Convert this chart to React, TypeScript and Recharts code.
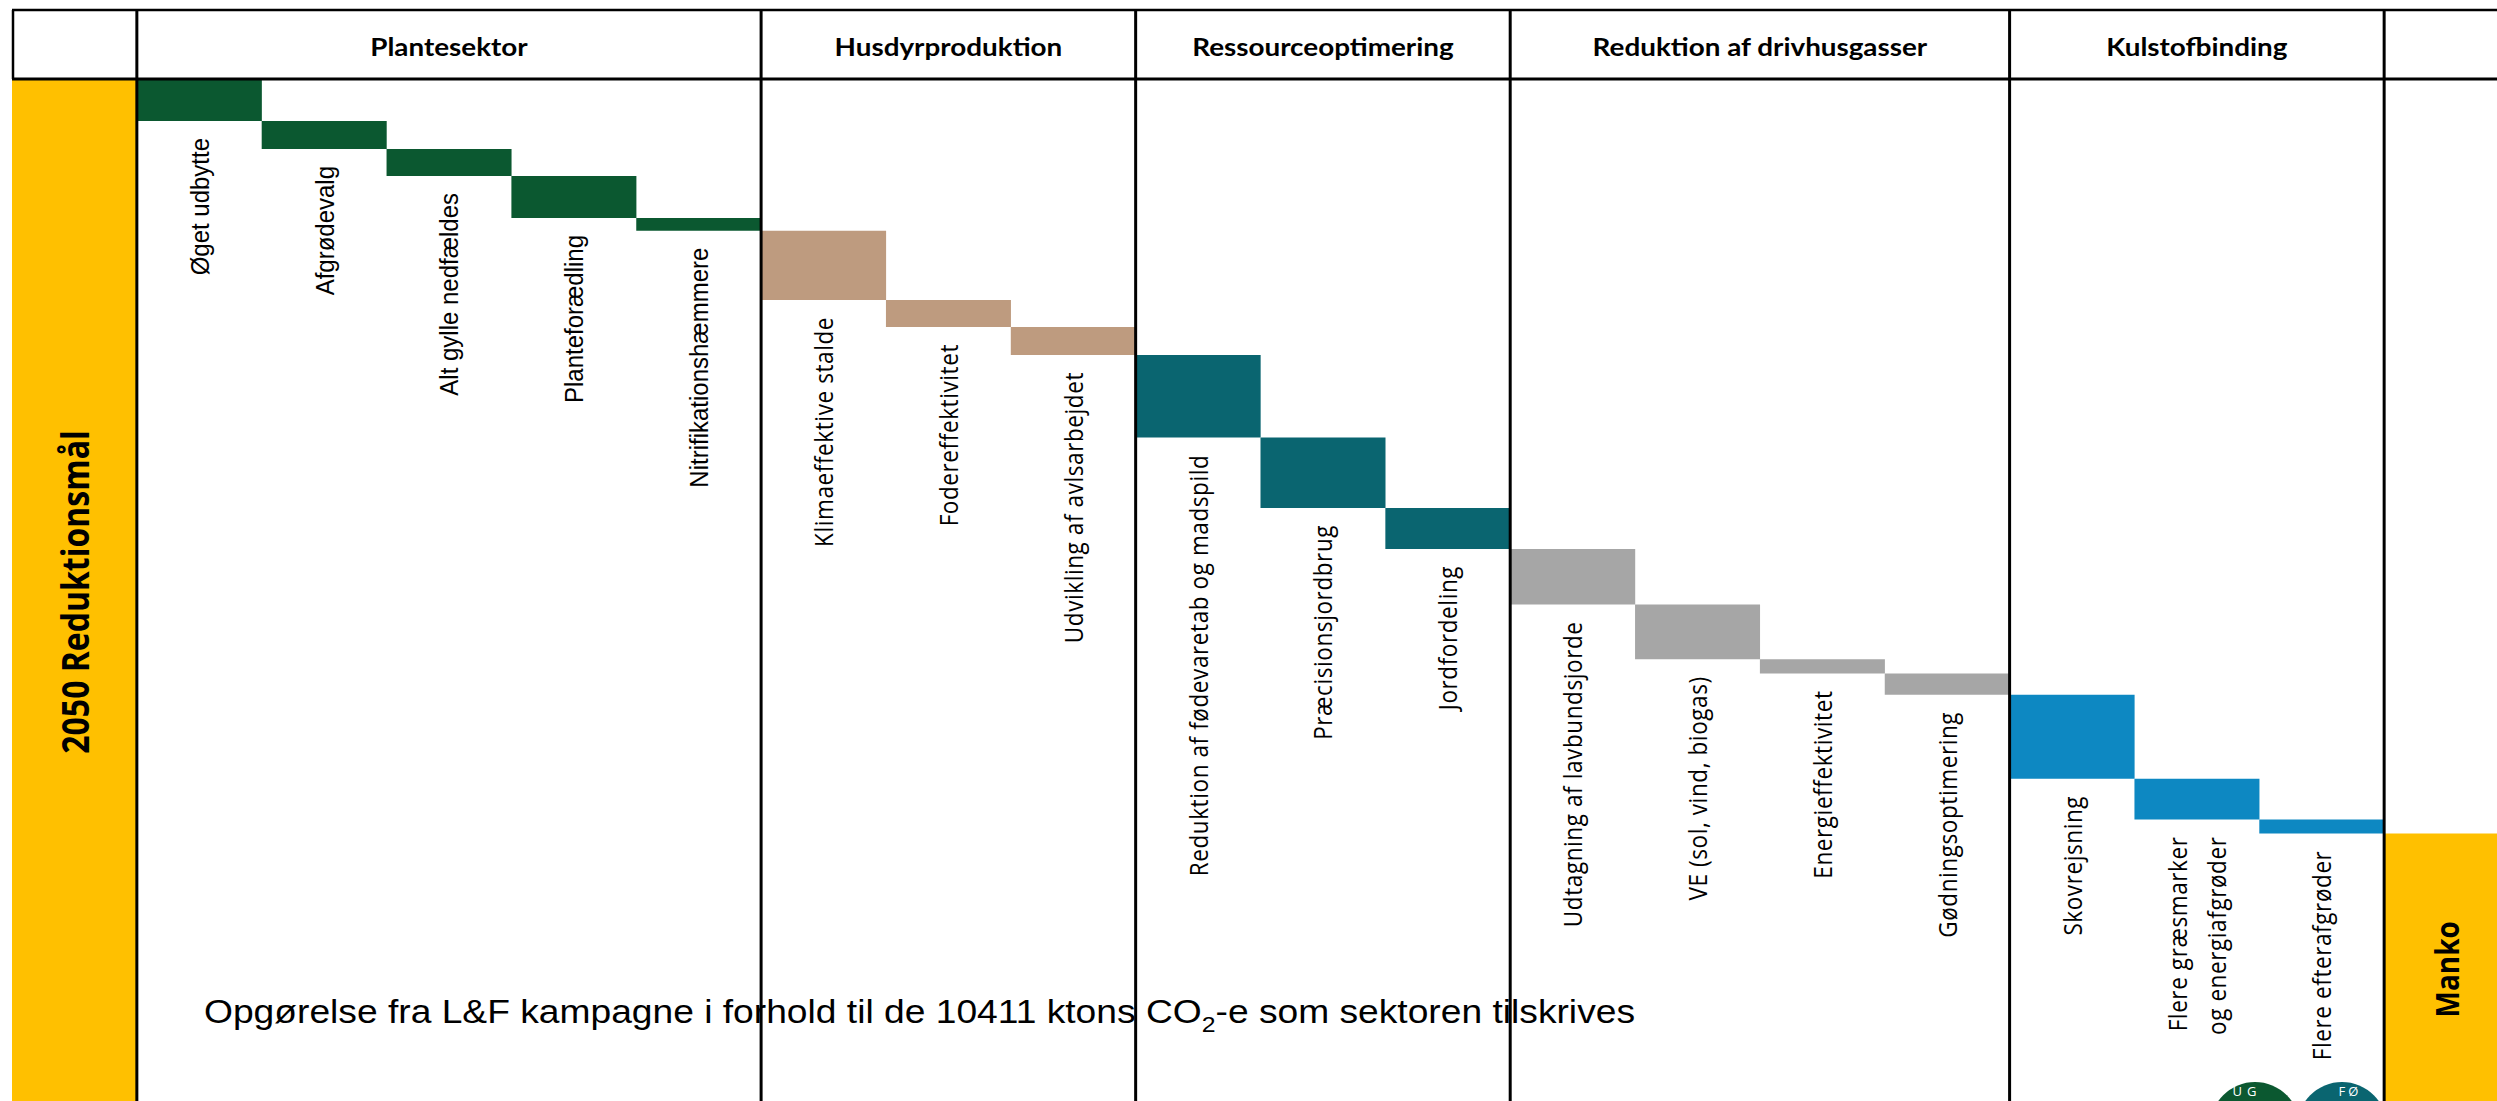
import { BarChart, Bar, XAxis, YAxis, Cell, LabelList } from "recharts";

// ktons CO2-e the sector is assigned for 2050
const TARGET = 10411;
const targetLabel = "2050 Reduktionsmål";
const gapLabel = "Manko";

const groups = [
  "Plantesektor",
  "Husdyrproduktion",
  "Ressourceoptimering",
  "Reduktion af drivhusgasser",
  "Kulstofbinding",
];

const measures = [
  "Øget udbytte",
  "Afgrødevalg",
  "Alt gylle nedfældes",
  "Planteforædling",
  "Nitrifikationshæmmere",
  "Klimaeffektive stalde",
  "Fodereffektivitet",
  "Udvikling af avlsarbejdet",
  "Reduktion af fødevaretab og madspild",
  "Præcisionsjordbrug",
  "Jordfordeling",
  "Udtagning af lavbundsjorde",
  "VE (sol, vind, biogas)",
  "Energieffektivitet",
  "Gødningsoptimering",
  "Skovrejsning",
  "Flere græsmarker\nog energiafgrøder",
  "Flere efterafgrøder",
];

const measureGroup = [0, 0, 0, 0, 0, 1, 1, 1, 2, 2, 2, 3, 3, 3, 3, 4, 4, 4];

// estimated reductions, ktons CO2-e
const measureValues = [
  426, 284, 274, 426, 129, 703, 274, 284, 839, 713, 416, 564, 556, 144, 217, 852, 413, 143,
];

const GROUP_COLORS = ["#0B5830", "#BE9B7F", "#0A6570", "#A6A6A6", "#0D88C2"];
const YELLOW = "#FFC000";

// layout
const W = 2520;
const H = 1120;
const M = { top: 79, right: 11, left: 12, bottom: 15 };
const N_CAT = measures.length + 2;
const BAND = (W - M.left - M.right) / N_CAT;
const LABEL_GAP = 17;

type Row = { name: string; base: number; value: number; kind: "target" | "measure" | "gap"; group: number };

// waterfall table: invisible base + visible step
const rows: Row[] = [];
rows.push({ name: targetLabel, base: 0, value: TARGET, kind: "target", group: -1 });
let level = TARGET;
measures.forEach((m, i) => {
  level -= measureValues[i];
  rows.push({ name: m, base: level, value: measureValues[i], kind: "measure", group: measureGroup[i] });
});
rows.push({ name: gapLabel, base: 0, value: level, kind: "gap", group: -1 });

const colorOf = (r: Row) => (r.group < 0 ? YELLOW : GROUP_COLORS[r.group]);

function BarLabel(props: any) {
  const vb = props.viewBox ?? props;
  const x = Number(vb.x);
  const y = Number(vb.y);
  const w = Number(vb.width);
  const h = Number(vb.height);
  const row = rows.find((r) => r.name === props.value);
  if (!row) return null;
  const cx = x + w / 2;

  if (row.kind !== "measure") {
    return (
      <text
        transform={`translate(${cx},${y + h / 2}) rotate(-90) scale(1,1.15)`}
        textAnchor="middle"
        dominantBaseline="central"
        fontFamily="'Open Sans', sans-serif"
        fontWeight={700}
        fontSize={row.kind === "target" ? 32 : 28}
        fill="#000"
      >
        {row.name}
      </text>
    );
  }

  const plant = row.group === 0;
  const lines = row.name.split("\n");
  const lh = 36;
  return (
    <text
      transform={`translate(${cx},${y + h + LABEL_GAP}) rotate(-90) scale(1,1.1)`}
      textAnchor="end"
      dominantBaseline="central"
      fontFamily={plant ? "'Liberation Sans', Arial, sans-serif" : "'Open Sans', sans-serif"}
      fontSize={plant ? 24 : 22.5}
      letterSpacing={plant ? 0 : 0.6}
      fill="#000"
    >
      {lines.map((ln, i) => (
        <tspan key={i} x={0} y={(i - (lines.length - 1) / 2) * lh}>
          {ln}
        </tspan>
      ))}
    </text>
  );
}

function Frame() {
  const xAt = (idx: number) => M.left + idx * BAND;
  // group spans in category index (measure i sits at category i + 1)
  const spans = groups.map((g, gi) => {
    const idx = measureGroup.map((v, i) => (v === gi ? i + 1 : -1)).filter((v) => v >= 0);
    return { name: g, start: idx[0], end: idx[idx.length - 1] + 1 };
  });
  const seps = [1, ...spans.map((s) => s.end)];
  return (
    <svg width={2497} height={1101} style={{ position: "absolute", left: 0, top: 0, pointerEvents: "none" }}>
      <line x1={M.left} x2={2497} y1={10} y2={10} stroke="#000" strokeWidth={2.5} />
      <line x1={M.left} x2={2497} y1={79} y2={79} stroke="#000" strokeWidth={3} />
      <line x1={M.left + 1} x2={M.left + 1} y1={10} y2={79} stroke="#000" strokeWidth={2.5} />
      {seps.map((s) => (
        <line key={s} x1={xAt(s)} x2={xAt(s)} y1={10} y2={1101} stroke="#000" strokeWidth={3} />
      ))}
      {spans.map((s) => (
        <text
          key={s.name}
          transform={`translate(${(xAt(s.start) + xAt(s.end)) / 2},47) scale(1.16,1)`}
          textAnchor="middle"
          dominantBaseline="central"
          fontFamily="Lato, sans-serif"
          fontWeight={700}
          fontSize={24}
          fill="#000"
        >
          {s.name}
        </text>
      ))}

      <text
        x={204}
        y={1023}
        fontFamily="'Liberation Sans Narrow', 'Liberation Sans', Arial, sans-serif"
        fontSize={33}
        fill="#000"
        textLength={1431}
        lengthAdjust="spacingAndGlyphs"
      >
        {`Opgørelse fra L&F kampagne i forhold til de ${TARGET} ktons CO`}
        <tspan fontSize={22} dy={9}>2</tspan>
        <tspan dy={-9}>-e som sektoren tilskrives</tspan>
      </text>

      {/* logos, cut off at the bottom edge */}
      <circle cx={2255} cy={1127} r={45} fill="#0B5830" />
      <circle cx={2342} cy={1127} r={45} fill="#0A6570" />
      <text x={2247} y={1096} textAnchor="middle" fontFamily="'Open Sans', sans-serif" fontSize={13} fill="#fff" letterSpacing={5}>
        UG
      </text>
      <text x={2350} y={1096} textAnchor="middle" fontFamily="'Open Sans', sans-serif" fontSize={13} fill="#fff" letterSpacing={3}>
        FØ
      </text>
    </svg>
  );
}

export default function App() {
  return (
    <div style={{ position: "absolute", left: 0, top: 0, width: 2497, height: 1101, overflow: "hidden", background: "#fff" }}>
      <BarChart width={W} height={H} data={rows} margin={M} barCategoryGap={0} barGap={0}>
        <XAxis dataKey="name" hide />
        <YAxis hide type="number" domain={[0, TARGET]} allowDataOverflow />
        <Bar dataKey="base" stackId="w" fill="transparent" isAnimationActive={false} />
        <Bar dataKey="value" stackId="w" isAnimationActive={false}>
          {rows.map((r) => (
            <Cell key={r.name} fill={colorOf(r)} />
          ))}
          <LabelList dataKey="name" content={BarLabel} />
        </Bar>
      </BarChart>
      <Frame />
    </div>
  );
}
